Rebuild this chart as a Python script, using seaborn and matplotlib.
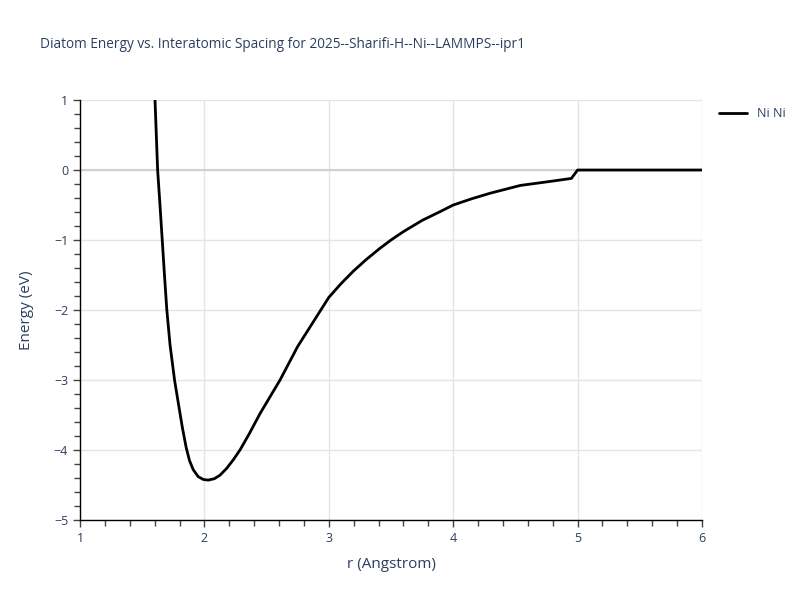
import matplotlib
matplotlib.use("Agg")
import matplotlib.pyplot as plt
from matplotlib.ticker import MultipleLocator
import seaborn as sns
import pandas as pd

# --- data ---
r_values = [1.58, 1.603, 1.624, 1.643, 1.661, 1.679, 1.698, 1.724, 1.76, 1.795,
            1.823, 1.853, 1.88, 1.91, 1.95, 1.99, 2.03, 2.08, 2.125, 2.18,
            2.232, 2.286, 2.36, 2.447, 2.608, 2.75, 2.90, 3.00, 3.10, 3.20,
            3.30, 3.41, 3.50, 3.60, 3.75, 3.90, 4.00, 4.15, 4.30, 4.54,
            4.75, 4.95, 5.00, 6.00]
energy_values = [1.9, 1.0, 0.0, -0.5, -1.0, -1.5, -2.0, -2.5, -3.0, -3.38,
                 -3.68, -3.96, -4.15, -4.28, -4.38, -4.42, -4.43, -4.41, -4.36, -4.26,
                 -4.14, -4.0, -3.77, -3.48, -3.0, -2.52, -2.1, -1.82, -1.62, -1.44,
                 -1.28, -1.12, -1.0, -0.88, -0.72, -0.59, -0.5, -0.41, -0.33, -0.22,
                 -0.17, -0.12, 0.0, 0.0]
series_name = "Ni Ni"

df = pd.DataFrame({"r": r_values, "E": energy_values})

text_color = "#2a3f5f"
sns.set_theme(style="white")
plt.rcParams["font.family"] = ["Open Sans", "DejaVu Sans"]

fig = plt.figure(figsize=(8, 6), dpi=100)
ax = fig.add_axes([0.1, 0.1333, 0.7775, 0.7])

# grid and zero line first so the curve sits on top
ax.set_axisbelow(True)
ax.grid(True, color="#e5e5e5", linewidth=1)
ax.axhline(0, color="#d0d0d0", linewidth=1.5, zorder=1)

sns.lineplot(data=df, x="r", y="E", color="black", linewidth=2,
             label=series_name, ax=ax, sort=False, zorder=3)

ax.set_xlim(1, 6)
ax.set_ylim(-5, 1)
ax.xaxis.set_major_locator(MultipleLocator(1))
ax.xaxis.set_minor_locator(MultipleLocator(0.2))
ax.yaxis.set_major_locator(MultipleLocator(1))
ax.yaxis.set_minor_locator(MultipleLocator(0.2))
ax.tick_params(which="both", direction="out", color="#444444", labelcolor=text_color,
               labelsize=9, bottom=True, left=True)
ax.tick_params(which="major", length=5, width=1)
ax.tick_params(which="minor", length=4, width=1)

for side in ["top", "right"]:
    ax.spines[side].set_visible(False)
for side in ["left", "bottom"]:
    ax.spines[side].set_color("black")
    ax.spines[side].set_linewidth(1)

ax.set_xlabel("r (Angstrom)", fontsize=11, color=text_color, labelpad=9)
ax.set_ylabel("Energy (eV)", fontsize=11, color=text_color, labelpad=14)

fig.text(0.05, 0.925, "Diatom Energy vs. Interatomic Spacing for 2025--Sharifi-H--Ni--LAMMPS--ipr1",
         fontsize=9.8, color=text_color, va="center")

ax.legend(loc="upper left", bbox_to_anchor=(1.01, 1.01), frameon=False,
          fontsize=9, labelcolor=text_color, handlelength=2.2)

fig.savefig("out.png", dpi=100)
